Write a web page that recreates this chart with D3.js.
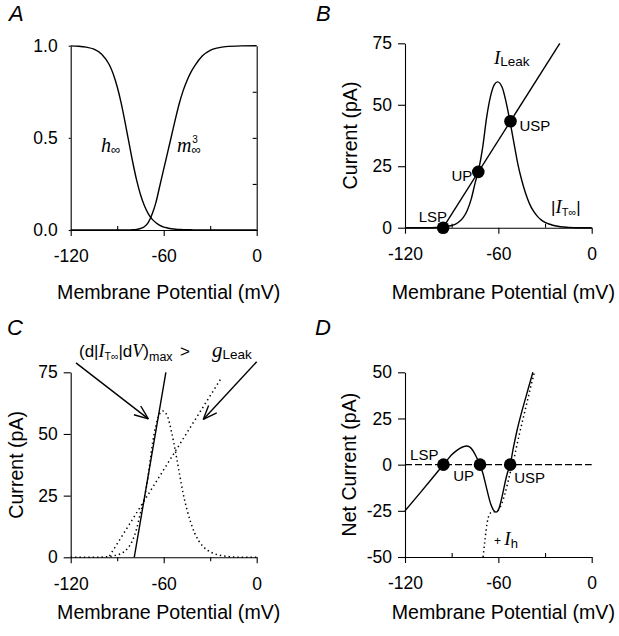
<!DOCTYPE html>
<html><head><meta charset="utf-8">
<script src="https://cdn.jsdelivr.net/npm/d3@7"></script>
<style>
body{margin:0;background:#fff;}
svg{display:block;}
text{font-family:"Liberation Sans", Arial, Helvetica, sans-serif; fill:#000;}
</style></head><body>
<svg id="fig" width="619" height="636"></svg>
<script>
// ---------------- DATA ----------------
const xTicks = [-120, -60, 0];
const xMinorTicks = [-90, -30];
const yTicksA = [0, 0.5, 1];
const yMinorA = [0.25, 0.5, 0.75];
const yTicksBC = [0, 25, 50, 75];
const yTicksD = [-50, -25, 0, 25, 50];

// Panel A: steady-state gating
const vA   = [-120,-115,-110,-105,-100,-95,-92.5,-90,-87.5,-85,-82.5,-80,-77.5,-75,-72.5,-70,-67.5,-65,-62.5,-60,-57.5,-55,-52.5,-50,-47.5,-45,-42.5,-40,-35,-30,-25,-20,-10,0];
const hInf = [0.999,0.997,0.992,0.981,0.954,0.895,0.845,0.777,0.691,0.588,0.478,0.369,0.272,0.193,0.133,0.089,0.059,0.039,0.025,0.016,0.011,0.007,0.004,0.003,0.002,0.001,0.001,0.0005,0,0,0,0,0,0];
const m3Inf= [0,0,0,0,0,0,0,0,0,0,0.0005,0.001,0.003,0.008,0.018,0.04,0.085,0.15,0.24,0.33,0.42,0.51,0.6,0.685,0.755,0.81,0.855,0.89,0.945,0.975,0.988,0.995,0.999,1.0];

// Panel B/C: |I_T,inf| and leak
const vT   = [-120,-105,-100,-95,-92.5,-90,-87.5,-85,-82.5,-80,-77.5,-75,-72.5,-70,-67.5,-65,-62.5,-60.5,-57.5,-55,-52.5,-50,-47.5,-45,-42.5,-40,-37.5,-35,-32.5,-30,-27.5,-25,-20,-15,-10,0];
const iTabs= [0,0,0.1,0.3,0.6,0.9,1.5,2.5,4.2,7,11.5,18,24,33,45,53.5,58.3,59.3,57,51,43.2,34.5,26,19.4,14,9.8,6.8,4.7,3.2,2.2,1.5,1.0,0.4,0.15,0,0];
const leakV = [-95.5, -20.5];
const leakI = [0, 75];
const fixedNames = ["LSP", "UP", "USP"];
const fixedV_B = [-95.5, -72.9, -52.2];
const fixedI_B = [0, 22.7, 43.3];

// Panel C
const steepV = [-79, -58.6];
const steepI = [0, 75];
const leakCV = [-95, -22.5];
const leakCI = [0.5, 73];
const arrowFromV = [-116.6, 0];
const arrowFromI = [78.8, 79.3];
const arrowToV = [-69.9, -34.5];
const arrowToI = [56.1, 55.9];

// Panel D: net current
const vNet = [-120,-110,-100,-95.3,-92.5,-90,-87.5,-85,-82.5,-80.5,-78.5,-76.5,-74.5,-72.5,-71.8,-70,-67.5,-65,-63,-61.5,-60,-58.5,-57,-55.5,-54,-52.4,-50.5,-48,-45,-42,-39.5,-37.8];
const iNet = [-25,-15,-4.8,0,2.9,5.3,7.2,8.7,9.7,10.1,9.6,7.8,4.8,1.2,0,-4.5,-13,-21,-24.8,-25.7,-24.6,-20.5,-15,-9,-4,0,8.5,18.5,28.5,37.5,45,50];
const vNetH = [-69.8,-68.5,-67.3,-66,-64,-62,-60,-58,-56,-54,-52.5,-50.8,-49,-46.5,-43.5,-40.5,-38.5,-36.8];
const iNetH = [-50,-40,-32,-27.5,-25.6,-25.5,-24.6,-21.5,-16.5,-10,-4.8,0,7,16.5,27,37.5,44.5,50];
const zeroV = [-120, 0];
const zeroI = [0, 0];
const fixedV_D = [-95.3, -71.8, -52.4];
const fixedI_D = [0, 0, 0];

// ---------------- DRAWING ----------------
const svg = d3.select("#fig");
const FONT = '"Liberation Sans", Arial, Helvetica, sans-serif';
const SERIF = '"Liberation Serif", "Times New Roman", serif';
const zip = (a, b) => a.map((d, i) => [d, b[i]]);

function panel(xr, yr, ydom) {
  return {
    x: d3.scaleLinear().domain([-120, 0]).range(xr),
    y: d3.scaleLinear().domain(ydom).range(yr)
  };
}
const A = panel([70.7, 256.7], [230, 45.7], [0, 1]);
const B = panel([405, 591.7], [227.7, 43.3], [0, 75]);
const C = panel([70.7, 256.7], [557.3, 372.3], [0, 75]);
const D = panel([405, 591.7], [557, 372.3], [-50, 50]);

function styleAxis(g, fs) {
  g.attr("font-family", FONT).attr("font-size", fs);
  g.selectAll("path.domain").attr("stroke", "#000").attr("stroke-width", 1.1);
  g.selectAll(".tick line").attr("stroke", "#000").attr("stroke-width", 1.1);
  g.selectAll("text").attr("fill", "#000");
}

function axes(P, yTicks, yFmt, minorDown, leftTickSize) {
  const y0 = P.y.range()[0];
  const x0 = P.x.range()[0];
  const gx = svg.append("g").attr("transform", `translate(0,${y0})`)
    .call(d3.axisBottom(P.x).tickValues(xTicks).tickSize(6).tickSizeOuter(0).tickPadding(14).tickFormat(d => String(d)));
  styleAxis(gx, 17.5);
  const gm = svg.append("g").attr("transform", `translate(0,${y0})`)
    .call(d3.axisBottom(P.x).tickValues(xMinorTicks).tickSize(minorDown ? 4 : -4).tickSizeOuter(0).tickFormat(""));
  styleAxis(gm, 17.5);
  gm.select("path.domain").remove();
  const gy = svg.append("g").attr("transform", `translate(${x0},0)`)
    .call(d3.axisLeft(P.y).tickValues(yTicks).tickSize(leftTickSize).tickSizeOuter(0).tickPadding(13 - leftTickSize).tickFormat(yFmt));
  styleAxis(gy, 17.5);
}

function xlabel(P, txt, yb) {
  const [a, b] = P.x.range();
  svg.append("text").attr("x", (a + b) / 2 + 5).attr("y", yb)
    .attr("text-anchor", "middle").attr("font-size", 19.6).text(txt);
}
function ylabel(P, txt, xb) {
  const [a, b] = P.y.range();
  const cy = (a + b) / 2;
  svg.append("text").attr("transform", `translate(${xb},${cy}) rotate(-90)`)
    .attr("text-anchor", "middle").attr("font-size", 19.6).text(txt);
}
function letter(t, x, y) {
  svg.append("text").attr("x", x).attr("y", y).attr("font-size", 22)
    .attr("font-style", "italic").text(t);
}
function curve(P, xs, ys, opts = {}) {
  const line = d3.line().x(d => P.x(d[0])).y(d => P.y(d[1])).curve(opts.linear ? d3.curveLinear : d3.curveMonotoneX);
  const p = svg.append("path").datum(zip(xs, ys)).attr("d", line)
    .attr("fill", "none").attr("stroke", "#000").attr("stroke-width", opts.w || 1.4);
  if (opts.dash) p.attr("stroke-dasharray", opts.dash);
  return p;
}
function dots(P, xs, ys) {
  svg.append("g").selectAll("circle").data(zip(xs, ys)).join("circle")
    .attr("cx", d => P.x(d[0])).attr("cy", d => P.y(d[1])).attr("r", 6.3).attr("fill", "#000");
}

// ---- Panel A ----
letter("A", 9, 21);
axes(A, yTicksA, d => d.toFixed(1), false, 2);
svg.append("g").attr("transform", `translate(${A.x.range()[1]},0)`)
  .call(d3.axisRight(A.y).tickValues(yMinorA).tickSize(-4).tickSizeOuter(0).tickFormat(""))
  .call(g => styleAxis(g, 17));
curve(A, vA, hInf);
curve(A, vA, m3Inf);
xlabel(A, "Membrane Potential (mV)", 299);
{
  const t = svg.append("text").attr("x", 101).attr("y", 152);
  t.append("tspan").attr("font-family", SERIF).attr("font-style", "italic").attr("font-size", 20).text("h");
  t.append("tspan").attr("font-size", 13).attr("dy", 2).text("∞");
  const t2 = svg.append("text").attr("x", 177).attr("y", 152);
  t2.append("tspan").attr("font-family", SERIF).attr("font-style", "italic").attr("font-size", 20).text("m");
  t2.append("tspan").attr("font-size", 13).attr("dy", 2).text("∞");
  t2.append("tspan").attr("font-size", 10).attr("dx", -8.5).attr("dy", -11).text("3");
}

// ---- Panel B ----
letter("B", 316, 21);
axes(B, yTicksBC, d => String(d), false, 7);
curve(B, vT, iTabs);
curve(B, leakV, leakI, { linear: true });
dots(B, fixedV_B, fixedI_B);
xlabel(B, "Membrane Potential (mV)", 299);
ylabel(B, "Current (pA)", 357);
{
  const lbl = svg.append("g").attr("font-size", 15);
  lbl.append("text").attr("x", B.x(fixedV_B[0]) + 4).attr("y", B.y(fixedI_B[0]) - 6).attr("text-anchor", "end").text(fixedNames[0]);
  lbl.append("text").attr("x", B.x(fixedV_B[1]) - 6).attr("y", B.y(fixedI_B[1]) + 9).attr("text-anchor", "end").text(fixedNames[1]);
  lbl.append("text").attr("x", B.x(fixedV_B[2]) + 9).attr("y", B.y(fixedI_B[2]) + 10).text(fixedNames[2]);
  const t = svg.append("text").attr("x", 494).attr("y", 64);
  t.append("tspan").attr("font-family", SERIF).attr("font-style", "italic").attr("font-size", 19).text("I");
  t.append("tspan").attr("font-size", 13.5).attr("dy", 2).text("Leak");
  const t2 = svg.append("text").attr("x", 551).attr("y", 213).attr("font-size", 17);
  t2.append("tspan").text("|");
  t2.append("tspan").attr("font-family", SERIF).attr("font-style", "italic").attr("font-size", 19).text("I");
  t2.append("tspan").attr("font-size", 11).attr("dy", 3).text("T∞");
  t2.append("tspan").attr("dy", -3).text("|");
}

// ---- Panel C ----
letter("C", 7, 335);
axes(C, yTicksBC, d => String(d), true, 7);
curve(C, vT, iTabs, { dash: "1.4,3", w: 1.5 });
curve(C, leakCV, leakCI, { linear: true, dash: "1.4,3.2", w: 1.5 });
curve(C, steepV, steepI, { linear: true });
xlabel(C, "Membrane Potential (mV)", 619);
ylabel(C, "Current (pA)", 23);
{
  for (let i = 0; i < arrowFromV.length; i++) {
    const x1 = C.x(arrowFromV[i]), y1 = C.y(arrowFromI[i]);
    const x2 = C.x(arrowToV[i]), y2 = C.y(arrowToI[i]);
    svg.append("line").attr("x1", x1).attr("y1", y1).attr("x2", x2).attr("y2", y2)
      .attr("stroke", "#000").attr("stroke-width", 1.4);
    const ang = Math.atan2(y1 - y2, x1 - x2);
    const L = 15, spread = 0.38;
    [ang - spread, ang + spread].forEach(a => {
      svg.append("line").attr("x1", x2).attr("y1", y2)
        .attr("x2", x2 + L * Math.cos(a)).attr("y2", y2 + L * Math.sin(a))
        .attr("stroke", "#000").attr("stroke-width", 1.4);
    });
  }
  const t = svg.append("text").attr("x", 79).attr("y", 357).attr("font-size", 17);
  t.append("tspan").text("(d|");
  t.append("tspan").attr("font-family", SERIF).attr("font-style", "italic").attr("font-size", 18).text("I");
  t.append("tspan").attr("font-size", 10.5).attr("dy", 3).text("T∞");
  t.append("tspan").attr("dy", -3).text("|d");
  t.append("tspan").attr("font-family", SERIF).attr("font-style", "italic").attr("font-size", 18).text("V");
  t.append("tspan").text(")");
  t.append("tspan").attr("font-size", 12.5).attr("dy", 4).text("max");
  svg.append("text").attr("x", 180).attr("y", 357).attr("font-size", 17).text(">");
  const g = svg.append("text").attr("x", 212).attr("y", 357);
  g.append("tspan").attr("font-family", SERIF).attr("font-style", "italic").attr("font-size", 21).text("g");
  g.append("tspan").attr("font-size", 13.5).attr("dy", 2).text("Leak");
}

// ---- Panel D ----
letter("D", 315, 335);
axes(D, yTicksD, d => String(d), false, 7);
curve(D, zeroV, zeroI, { linear: true, dash: "7,3", w: 1.1 });
curve(D, vNetH, iNetH, { dash: "1.4,3", w: 1.5 });
curve(D, vNet, iNet);
dots(D, fixedV_D, fixedI_D);
xlabel(D, "Membrane Potential (mV)", 619);
ylabel(D, "Net Current (pA)", 356);
{
  const lbl = svg.append("g").attr("font-size", 15);
  lbl.append("text").attr("x", D.x(fixedV_D[0]) - 5).attr("y", D.y(0) - 5).attr("text-anchor", "end").text(fixedNames[0]);
  lbl.append("text").attr("x", D.x(fixedV_D[1]) - 6).attr("y", D.y(0) + 16).attr("text-anchor", "end").text(fixedNames[1]);
  lbl.append("text").attr("x", D.x(fixedV_D[2]) + 4).attr("y", D.y(0) + 18).text(fixedNames[2]);
  const t = svg.append("text").attr("x", 494).attr("y", 545);
  t.append("tspan").attr("font-size", 12).text("+ ");
  t.append("tspan").attr("font-family", SERIF).attr("font-style", "italic").attr("font-size", 19).text("I");
  t.append("tspan").attr("font-size", 13).attr("dy", 3).text("h");
}
</script>
</body></html>
